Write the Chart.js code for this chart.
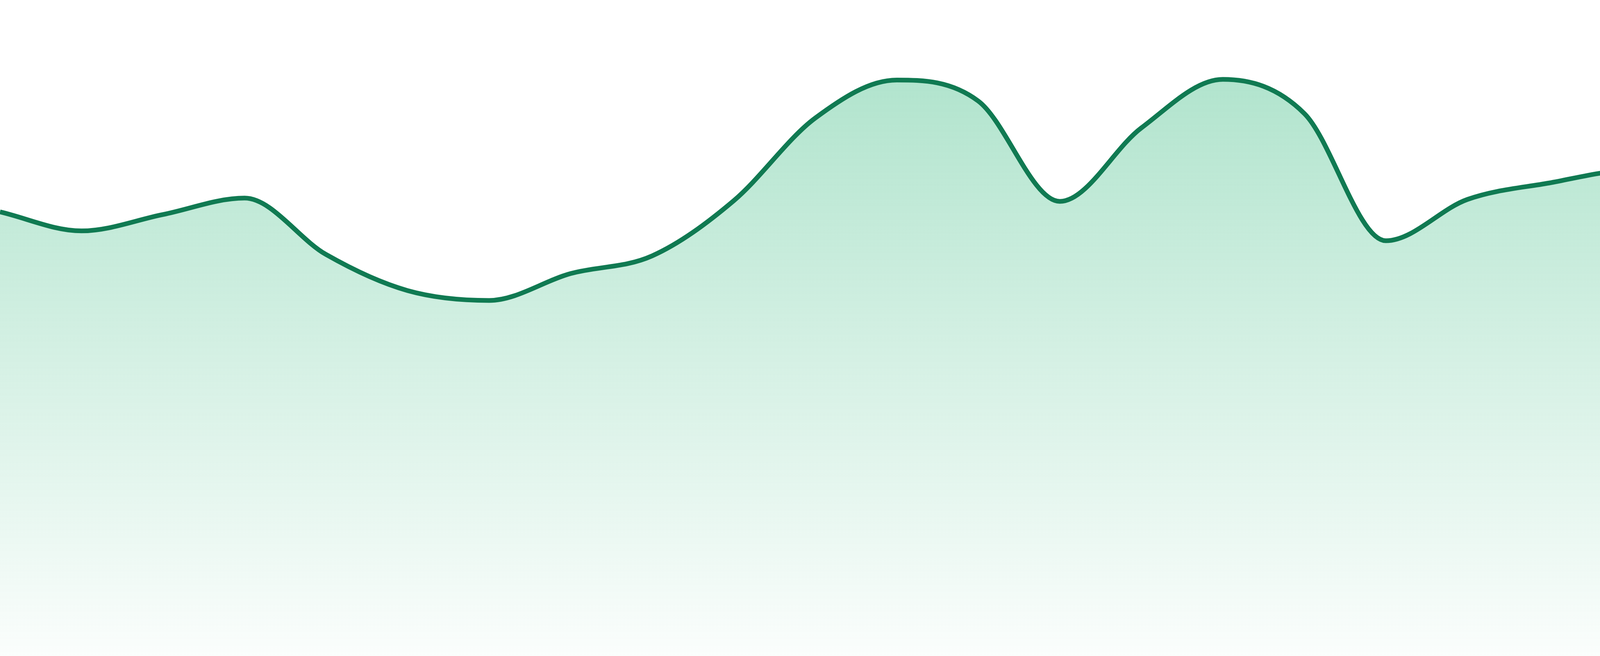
<!DOCTYPE html>
<html>
<head>
<meta charset="utf-8">
<style>
  html, body { margin: 0; padding: 0; background: #fff; }
  #wrap { width: 4800px; height: 1680px; position: relative; }
</style>
<script src="https://cdn.jsdelivr.net/npm/chart.js@4/dist/chart.umd.min.js"></script>
</head>
<body>
<div id="wrap"><canvas id="areaChart"></canvas></div>
<script>
// values (scale 0..100, axes hidden)
const labels = ['1', '2', '3', '4', '5', '6', '7', '8', '9', '10', '11', '12',
  '13', '14', '15', '16', '17', '18', '19', '20', '21', '22', '23', '24'];
const values = [67.7, 64.8, 67.3, 69.8, 61.2, 55.7, 54.2, 58.3, 61.0, 69.4, 82.0, 87.8,
  84.6, 69.3, 80.5, 87.9, 82.7, 63.3, 69.6, 72.1, 74.0, 72.6, 70.5, 76.0];
const yMin = 0;
const yMax = 100;

document.addEventListener('DOMContentLoaded', function () {
  const ctx = document.getElementById('areaChart').getContext('2d');

  new Chart(ctx, {
    type: 'line',
    data: {
      labels: labels,
      datasets: [{
        data: values,
        borderColor: 'rgb(16, 122, 82)',
        borderWidth: 12,
        pointRadius: 0,
        pointHoverRadius: 0,
        cubicInterpolationMode: 'monotone',
        fill: 'origin',
        backgroundColor: function (context) {
          const area = context.chart.chartArea;
          if (!area) return 'rgba(36, 179, 115, 0.3)';
          const g = context.chart.ctx.createLinearGradient(0, area.top, 0, area.bottom);
          g.addColorStop(0, 'rgba(36, 179, 115, 0.40)');
          g.addColorStop(1, 'rgba(36, 179, 115, 0.02)');
          return g;
        }
      }]
    },
    options: {
      responsive: true,
      maintainAspectRatio: false,
      animation: false,
      layout: { padding: 0 },
      plugins: {
        legend: { display: false },
        tooltip: { enabled: false }
      },
      scales: {
        x: { display: false },
        y: { display: false, min: yMin, max: yMax }
      }
    }
  });
});
</script>
</body>
</html>
